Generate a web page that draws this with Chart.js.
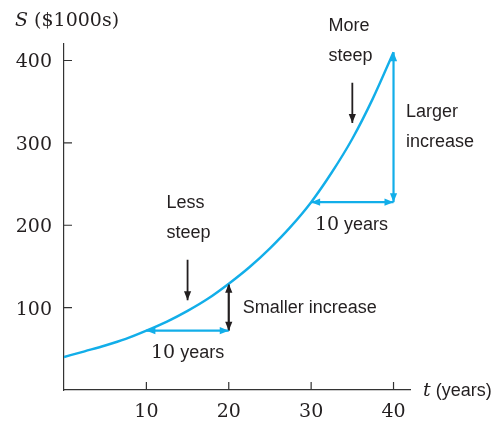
<!DOCTYPE html>
<html>
<head>
<meta charset="utf-8">
<script src="https://cdn.jsdelivr.net/npm/chart.js@4.4.1/dist/chart.umd.min.js"></script>
<style>
  html, body { margin: 0; padding: 0; background: #fff; }
</style>
</head>
<body>
<canvas id="chart" width="495" height="421"></canvas>
<script>
// Curve S(t)
const years = [0, 2.5, 5, 7.5, 10, 12.5, 15, 17.5, 20, 22.5, 25, 27.5, 30, 32.5, 35, 37.5, 40];
const sales = [40, 47, 54, 62, 72, 83, 96, 111, 129, 149, 172, 198, 228, 264, 305, 354, 410];
const xTicks = [10, 20, 30, 40];
const yTicks = [100, 200, 300, 400];

// arrows: horizontal [t1, t2, S], vertical [t, S1, S2], pointers [t, Sfrom, Sto]
const runArrows = [[10, 20, 72], [30, 40, 228]];
const riseArrows = [[20, 72, 129], [40, 228, 410]];
const pointerArrows = [[15, 158, 109], [35, 373, 324]];

const BLUE = '#12aee9';
const INK = '#231f20';
const SERIF = '"DejaVu Serif", serif';
const SANS = '"Liberation Sans", Arial, sans-serif';
const riseColors = [INK, BLUE];

function seg(a, b, color, width) {
  return {
    data: [a, b],
    borderColor: color,
    borderWidth: width,
    pointRadius: 0,
    fill: false,
    tension: 0
  };
}

const datasets = [{
  data: years.map((t, i) => ({ x: t, y: sales[i] })),
  borderColor: BLUE,
  borderWidth: 2.4,
  pointRadius: 0,
  fill: false,
  cubicInterpolationMode: 'monotone'
}];
runArrows.forEach(a => datasets.push(seg({ x: a[0], y: a[2] }, { x: a[1], y: a[2] }, BLUE, 2.2)));
riseArrows.forEach((a, i) => datasets.push(seg({ x: a[0], y: a[1] }, { x: a[0], y: a[2] }, riseColors[i], 2.2)));
pointerArrows.forEach(a => datasets.push(seg({ x: a[0], y: a[1] }, { x: a[0], y: a[2] }, INK, 1.8)));

function head(ctx, x, y, dx, dy, color) {
  // tip at (x, y), pointing along (dx, dy)
  const len = 9, half = 3.6;
  const n = Math.hypot(dx, dy);
  const ux = dx / n, uy = dy / n;
  ctx.fillStyle = color;
  ctx.beginPath();
  ctx.moveTo(x, y);
  ctx.lineTo(x - ux * len - uy * half, y - uy * len + ux * half);
  ctx.lineTo(x - ux * len + uy * half, y - uy * len - ux * half);
  ctx.closePath();
  ctx.fill();
}

function txt(ctx, parts, x, y) {
  // parts: [text, font] drawn one after another from x, middle baseline
  ctx.textBaseline = 'middle';
  ctx.textAlign = 'left';
  parts.forEach(p => {
    ctx.font = p[1];
    ctx.fillText(p[0], x, y);
    x += ctx.measureText(p[0]).width;
  });
}

function txtCenter(ctx, parts, cx, y) {
  let w = 0;
  parts.forEach(p => { ctx.font = p[1]; w += ctx.measureText(p[0]).width; });
  txt(ctx, parts, cx - w / 2, y);
}

const decor = {
  id: 'decor',
  afterDraw(chart) {
    const ctx = chart.ctx;
    const xs = chart.scales.x, ys = chart.scales.y;
    const X = v => xs.getPixelForValue(v), Y = v => ys.getPixelForValue(v);
    const area = chart.chartArea;
    ctx.save();

    // inward tick marks
    ctx.strokeStyle = '#333';
    ctx.lineWidth = 1.2;
    ctx.beginPath();
    xTicks.forEach(v => { ctx.moveTo(X(v), area.bottom); ctx.lineTo(X(v), area.bottom - 8); });
    yTicks.forEach(v => { ctx.moveTo(area.left, Y(v)); ctx.lineTo(area.left + 8, Y(v)); });
    ctx.stroke();

    // arrow heads
    runArrows.forEach(a => {
      head(ctx, X(a[0]), Y(a[2]), -1, 0, BLUE);
      head(ctx, X(a[1]), Y(a[2]), 1, 0, BLUE);
    });
    riseArrows.forEach((a, i) => {
      head(ctx, X(a[0]), Y(a[1]), 0, 1, riseColors[i]);
      head(ctx, X(a[0]), Y(a[2]), 0, -1, riseColors[i]);
    });
    pointerArrows.forEach(a => head(ctx, X(a[0]), Y(a[2]), 0, Y(a[2]) - Y(a[1]), INK));

    // labels
    ctx.fillStyle = INK;
    const sans = '18px ' + SANS;
    const serif = '19px ' + SERIF;
    txt(ctx, [['Less', sans]], X(12.45), Y(227));
    txt(ctx, [['steep', sans]], X(12.45), Y(191));
    txt(ctx, [['More', sans]], X(32.1), Y(442));
    txt(ctx, [['steep', sans]], X(32.1), Y(405));
    txt(ctx, [['Larger', sans]], X(41.5), Y(337));
    txt(ctx, [['increase', sans]], X(41.5), Y(301));
    txt(ctx, [['Smaller increase', sans]], X(21.7), Y(100));
    txtCenter(ctx, [['10', serif], [' years', sans]], X(15), Y(45));
    txtCenter(ctx, [['10', serif], [' years', sans]], X(34.9), Y(200));

    // axis titles
    txt(ctx, [['S', 'italic 19px ' + SERIF], [' ($1000s)', '19px ' + SERIF]], 15, 21);
    txt(ctx, [['t', 'italic 19px ' + SERIF], [' (years)', sans]], 423, area.bottom + 1);
    ctx.restore();
  }
};

new Chart(document.getElementById('chart'), {
  type: 'line',
  data: { datasets: datasets },
  options: {
    responsive: false,
    animation: false,
    events: [],
    layout: { padding: { top: 44, right: 85, left: 0, bottom: 0 } },
    plugins: { legend: { display: false }, tooltip: { enabled: false } },
    scales: {
      x: {
        type: 'linear',
        min: 0,
        max: 42,
        grid: { display: false, drawTicks: false },
        border: { color: '#333', width: 1.2 },
        afterBuildTicks: s => { s.ticks = xTicks.map(v => ({ value: v })); },
        afterFit: s => { s.height = 31; },
        ticks: { color: INK, padding: 11, maxRotation: 0, font: { family: SERIF, size: 19 } }
      },
      y: {
        type: 'linear',
        min: 0,
        max: 420,
        grid: { display: false, drawTicks: false },
        border: { color: '#333', width: 1.2 },
        afterBuildTicks: s => { s.ticks = yTicks.map(v => ({ value: v })); },
        afterFit: s => { s.width = 64; },
        ticks: { color: INK, padding: 12, labelOffset: 2, font: { family: SERIF, size: 19 } }
      }
    }
  },
  plugins: [decor]
});
</script>
</body>
</html>
